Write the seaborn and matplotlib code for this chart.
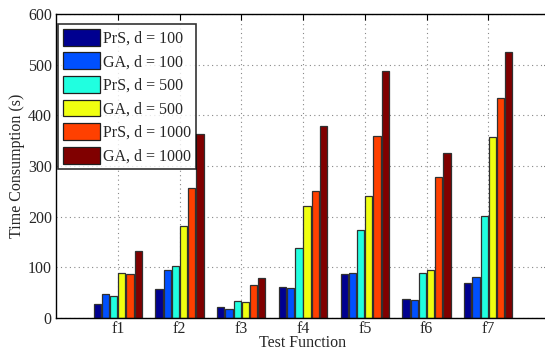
import matplotlib
matplotlib.use("Agg")
import matplotlib.pyplot as plt
import seaborn as sns
import pandas as pd

functions = ["f1", "f2", "f3", "f4", "f5", "f6", "f7"]
series = ["PrS, d = 100", "GA, d = 100", "PrS, d = 500", "GA, d = 500", "PrS, d = 1000", "GA, d = 1000"]
prs_100 = [27, 57, 21, 61, 86, 38, 69]
ga_100 = [47, 94, 18, 59, 89, 35, 81]
prs_500 = [43, 103, 34, 138, 173, 88, 201]
ga_500 = [88, 182, 31, 221, 241, 94, 357]
prs_1000 = [87, 257, 65, 250, 359, 279, 434]
ga_1000 = [133, 363, 78, 378, 488, 325, 525]
colors = ["#000090", "#0050ff", "#20ffe0", "#f0ff10", "#ff4000", "#800000"]

values = [prs_100, ga_100, prs_500, ga_500, prs_1000, ga_1000]
rows = []
for name, vals in zip(series, values):
    for f, v in zip(functions, vals):
        rows.append({"func": f, "series": name, "time": v})
df = pd.DataFrame(rows)

sns.set_style("white")
plt.rcParams["font.family"] = ["Liberation Serif", "DejaVu Serif"]

fig = plt.figure(figsize=(5.45, 3.51), dpi=100)
ax = fig.add_axes([56 / 545, 1 - 318 / 351, (550 - 56) / 545, (318 - 14) / 351])

sns.barplot(data=df, x="func", y="time", hue="series", order=functions,
            hue_order=series, palette=colors, saturation=1, width=0.8, gap=0.12,
            edgecolor="#303030", linewidth=0.9, ax=ax, errorbar=None)

ax.set_xlim(-1, 7)
ax.set_ylim(0, 600)
ax.set_yticks(range(0, 601, 100))
ax.grid(True, linestyle=(0, (1, 3)), color="#888888", linewidth=0.8)
ax.set_axisbelow(True)
ax.tick_params(direction="in", top=True, right=True, labelsize=11.5, length=4, width=0.8,
               color="black", pad=3)
ax.tick_params(axis="x", pad=2)
for s in ax.spines.values():
    s.set_color("black")
    s.set_linewidth(1.0)
ax.set_xlabel("Test Function", fontsize=11.5, labelpad=-1)
ax.set_ylabel("Time Consumption (s)", fontsize=11.5, labelpad=2)

leg = ax.legend(loc="upper left", bbox_to_anchor=(0.004, 0.967), fontsize=11.5,
                frameon=True, fancybox=False, edgecolor="black", handlelength=2.3,
                handleheight=1.25, labelspacing=0.36, handletextpad=0.25,
                borderpad=0.3, borderaxespad=0.0)
leg.get_frame().set_linewidth(1.2)
for h in leg.get_patches():
    h.set_edgecolor("#202020")

fig.savefig("out.png", dpi=100)
